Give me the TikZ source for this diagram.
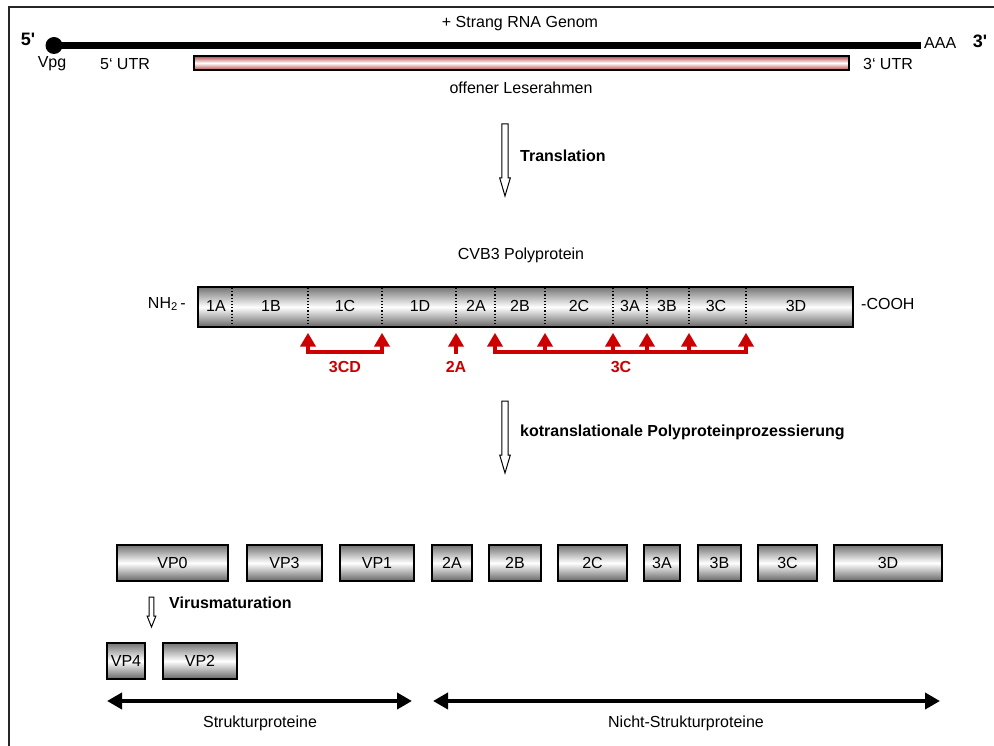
\documentclass[tikz,border=0pt]{standalone}
\usepackage{fontspec}
\setmainfont{Liberation Sans}
\usetikzlibrary{arrows.meta,calc}
\definecolor{cvred}{RGB}{204,0,0}
\definecolor{orfred}{RGB}{185,70,70}
\newcommand\hollowarr[5]{% top, bottom, shaft half, head half, head length
  \draw[line width=1pt, fill=white]
    ($(#1)+(-#3,0)$) -- ($(#1)+(#3,0)$) -- ($(#2)+(#3,-#5)$) -- ($(#2)+(#4,-#5)$)
    -- (#2) -- ($(#2)+(-#4,-#5)$) -- ($(#2)+(-#3,-#5)$) -- cycle;}
\begin{document}
\begin{tikzpicture}[x=1pt,y=-1pt,
  font=\fontsize{16}{19}\selectfont,
  txt/.style={inner sep=0pt, anchor=center},
  btxt/.style={inner sep=0pt, anchor=center, font=\fontsize{16}{19}\selectfont\bfseries},
  rtxt/.style={btxt, text=cvred},
  protbox/.style={draw=black, line width=1.3pt, top color=black!55, bottom color=black!60,
    middle color=white, minimum height=36pt, inner sep=0pt},
  polybar/.style={draw=black, line width=1.2pt, top color=black!55, bottom color=black!60,
    middle color=white, minimum height=40pt, minimum width=655pt, inner sep=0pt},
  divider/.style={dotted, line width=1.2pt},
  cleave/.style={cvred, line width=4.6pt},
  spanarrow/.style={line width=4pt, {Triangle[width=16pt,length=15pt]}-{Triangle[width=16pt,length=15pt]}}
]
\useasboundingbox (0,0) rectangle (994,746);
% frame
\draw[line width=1.4pt, black!85] (9,760) -- (9,7) -- (1010,7);

% RNA genome
\node[circle, fill=black, inner sep=0pt, minimum size=17pt] (vpgdot) at (54,45.5) {};
\coordinate (polyA) at (921,45.5);
\draw[line width=7pt] (vpgdot.center) -- (polyA);
\node[txt] (genom) at (520,24) {+ Strang RNA Genom};
\node[btxt, font=\fontsize{18}{20}\selectfont\bfseries] (five) at (28,39) {5\textquotesingle};
\node[btxt, font=\fontsize{18}{20}\selectfont\bfseries] (three) at (980,41) {3\textquotesingle};
\node[txt, anchor=west] (aaa) at (924,43) {AAA};
\node[txt] (vpg) at (52,64) {Vpg};
\node[txt] (utr5) at (125,64) {5‘ UTR};
\node[txt] (utr3) at (888,64) {3‘ UTR};
\node[draw=black, line width=1.5pt, minimum width=655pt, minimum height=14pt, inner sep=0pt,
  top color=orfred, bottom color=orfred, middle color=white] (orf) at (521.5,63) {};
\node[txt] (orflbl) at (521,88) {offener Leserahmen};

% translation arrow
\coordinate (t1a) at (505,124);
\coordinate (t1b) at (505,196);
\hollowarr{t1a}{t1b}{3.2}{5.3}{18}
\node[btxt, anchor=west] (transl) at (520,156) {Translation};

% polyprotein
\node[txt] (polylbl) at (521,255) {CVB3 Polyprotein};
\node[polybar] (poly) at (525.5,307) {};
\foreach \x in {232,308,382,456,495,545,613,647,689,746}
  \draw[divider] (\x,288) -- (\x,326);
\foreach \t/\x in {1A/216,1B/271,1C/345,1D/420,2A/476,2B/520,2C/579,3A/630,3B/667,3C/716,3D/796}
  \node[txt] at (\x,306) {\t};
\node[txt, anchor=east] (nh2) at (186,304) {NH\textsubscript{2}\,-};
\node[txt, anchor=west] (cooh) at (861,304) {-COOH};

% cleavage arrows
\draw[cleave, line join=miter] (308,344) -- (308,352) -- (382,352) -- (382,344);
\draw[cleave] (456,354.3) -- (456,344);
\draw[cleave, line join=miter] (495,344) -- (495,352) -- (746,352) -- (746,344);
\foreach \x in {545,613,647,689}
  \draw[cleave] (\x,352) -- (\x,344);
\foreach \x in {308,382,456,495,545,613,647,689,746}
  \fill[cvred] (\x-8,346.5) -- (\x,333) -- (\x+8,346.5) -- cycle;
\node[rtxt] (l3cd) at (345,367) {3CD};
\node[rtxt] (l2a) at (456,367) {2A};
\node[rtxt] (l3c) at (621,367) {3C};

% processing arrow
\coordinate (t2a) at (505,401);
\coordinate (t2b) at (505,473);
\hollowarr{t2a}{t2b}{3.2}{5.3}{18}
\node[btxt, anchor=west] (proc) at (520,432) {kotranslationale Polyproteinprozessierung};

% cleaved proteins
\foreach \n/\a/\b/\t in {vp0/117/228/VP0,vp3/247/322/VP3,vp1/340/414/VP1,b2a/432/472/2A,
  b2b/489/541/2B,b2c/558/627/2C,b3a/644/680/3A,b3b/698/741/3B,b3c/758/817/3C,b3d/834/942/3D}
  \node[protbox, minimum width={\b-\a}] (\n) at ({(\a+\b)/2},563) {\t};

% maturation
\coordinate (t3a) at (151.5,597);
\coordinate (t3b) at (151.5,627);
\hollowarr{t3a}{t3b}{2.4}{4.4}{11}
\node[btxt, anchor=west] (mat) at (169,603) {Virusmaturation};
\node[protbox, minimum width=38pt] (vp4) at (126,661) {VP4};
\node[protbox, minimum width=74pt] (vp2) at (200,661) {VP2};

% spans
\coordinate (s1l) at (107,701);
\coordinate (s1r) at (412,701);
\coordinate (s2l) at (433,701);
\coordinate (s2r) at (940,701);
\draw[spanarrow] (s1l) -- (s1r);
\draw[spanarrow] (s2l) -- (s2r);
\node[txt] (struk) at (260,723) {Strukturproteine};
\node[txt] (nstruk) at (686,723) {Nicht-Strukturproteine};
\end{tikzpicture}
\end{document}
